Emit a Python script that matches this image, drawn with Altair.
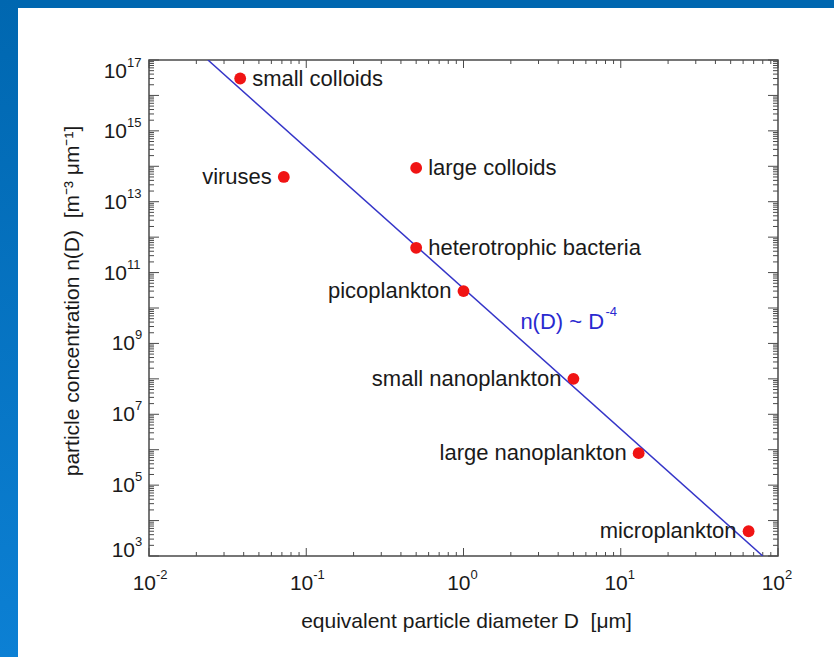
import altair as alt
import pandas as pd

# ---- plotting area geometry (pixels) ----
W, H = 629, 496
PAD = {"left": 149, "top": 60, "right": 56, "bottom": 101}

# ---- particle classes: equivalent diameter (um) and concentration (m^-3 um^-1) ----
names = [
    "small colloids", "viruses", "large colloids", "heterotrophic bacteria",
    "picoplankton", "small nanoplankton", "large nanoplankton", "microplankton",
]
diameter = [0.038, 0.072, 0.5, 0.5, 1.0, 5.0, 13.0, 65.0]
concentration = [3e16, 5e13, 9e13, 5e11, 3e10, 1e8, 8e5, 5e3]
left_labeled = ["viruses", "picoplankton", "small nanoplankton",
                "large nanoplankton", "microplankton"]

# power law n(D) ~ D^-4, end points across the plotted range
law_D = [0.0237, 80.0]
law_n = [1e17, 1e3]

# axis decades and their exponent labels
x_decades = [0.01, 0.1, 1, 10, 100]
x_exps = ["-2", "-1", "0", "1", "2"]
y_label_vals = [1e3, 1e5, 1e7, 1e9, 1e11, 1e13, 1e15, 1e17]
y_exps = ["3", "5", "7", "9", "11", "13", "15", "17"]

x_major = x_decades
x_minor = [k * 10.0 ** e for e in range(-2, 2) for k in range(2, 10)]
y_major = [10.0 ** e for e in range(3, 18)]
y_minor = [k * 10.0 ** e for e in range(3, 17) for k in range(2, 10)]

NB = "\u00a0"
x_title = "equivalent particle diameter D" + NB + NB + "[\u03bcm]"
y_title = ("particle concentration n(D)" + NB + NB
           + "[m\u207b\u00b3" + NB + "\u03bcm\u207b\u00b9]")

FONT = "Liberation Sans"
INK = "#1a1a1a"
AX = "#4a4a4a"
FS = 22

xs = alt.Scale(type="log", domain=[0.01, 100], nice=False)
ys = alt.Scale(type="log", domain=[1e3, 1e17], nice=False)

pts = pd.DataFrame({"name": names, "D": diameter, "n": concentration})
pts["left"] = pts["name"].isin(left_labeled)

blank = alt.Data(values=[{}])

# ---- page frame ----
top_strip = alt.Chart(blank).mark_rect(color="#0067b0").encode(
    x=alt.value(-PAD["left"]), x2=alt.value(W + PAD["right"]),
    y=alt.value(-PAD["top"]), y2=alt.value(-PAD["top"] + 8),
)
left_strip = alt.Chart(blank).mark_rect(
    color=alt.Gradient(
        gradient="linear", x1=0, y1=0, x2=0, y2=1,
        stops=[alt.GradientStop(color="#0067b0", offset=0),
               alt.GradientStop(color="#0c80d4", offset=1)],
    )
).encode(
    x=alt.value(-PAD["left"]), x2=alt.value(-PAD["left"] + 18),
    y=alt.value(-PAD["top"]), y2=alt.value(H + PAD["bottom"]),
)

# ---- inward ticks on all four sides ----
def xticks(vals, length):
    df = pd.DataFrame({"tx": vals})
    enc = dict(x=alt.X("tx:Q", scale=xs, axis=None))
    bottom = alt.Chart(df).mark_rule(color=AX, strokeWidth=1).encode(
        **enc, y=alt.value(H), y2=alt.value(H - length))
    top = alt.Chart(df).mark_rule(color=AX, strokeWidth=1).encode(
        **enc, y=alt.value(0), y2=alt.value(length))
    return [bottom, top]


def yticks(vals, length):
    df = pd.DataFrame({"ty": vals})
    enc = dict(y=alt.Y("ty:Q", scale=ys, axis=None))
    left = alt.Chart(df).mark_rule(color=AX, strokeWidth=1).encode(
        **enc, x=alt.value(0), x2=alt.value(length))
    right = alt.Chart(df).mark_rule(color=AX, strokeWidth=1).encode(
        **enc, x=alt.value(W), x2=alt.value(W - length))
    return [left, right]


ticks = xticks(x_major, 8) + xticks(x_minor, 4) + yticks(y_major, 10) + yticks(y_minor, 5)

# ---- tick labels: "10" with a raised exponent ----
xl = pd.DataFrame({"xv": x_decades, "e": x_exps})
x_base = alt.Chart(xl).mark_text(
    align="right", baseline="middle", dx=7, font=FONT, fontSize=21, color=INK
).encode(x=alt.X("xv:Q", scale=xs, axis=None), y=alt.value(H + 28), text=alt.value("10"))
x_sup = alt.Chart(xl).mark_text(
    align="left", baseline="middle", dx=7, font=FONT, fontSize=13, color=INK
).encode(x=alt.X("xv:Q", scale=xs, axis=None), y=alt.value(H + 19), text="e:N")

yl = pd.DataFrame({"yv": y_label_vals, "e": y_exps})


def ylabel(cond, xoff, dy):
    base = alt.Chart(yl).transform_filter(cond).mark_text(
        align="right", baseline="middle", dy=dy, font=FONT, fontSize=21, color=INK
    ).encode(y=alt.Y("yv:Q", scale=ys, axis=None), x=alt.value(xoff), text=alt.value("10"))
    sup = alt.Chart(yl).transform_filter(cond).mark_text(
        align="left", baseline="middle", dy=dy - 9, font=FONT, fontSize=13, color=INK
    ).encode(y=alt.Y("yv:Q", scale=ys, axis=None), x=alt.value(xoff), text="e:N")
    return [base, sup]


ylabels = (
    ylabel("datum.yv >= 1e10 && datum.yv < 1e16", -22, 1)
    + ylabel("datum.yv > 1e16", -22, 12)
    + ylabel("datum.yv < 1e10 && datum.yv > 1e4", -14, 1)
    + ylabel("datum.yv < 1e4", -14, -5)
)

# ---- axis titles ----
xtitle = alt.Chart(blank).mark_text(
    align="center", baseline="middle", font=FONT, fontSize=21, color=INK
).encode(x=alt.value(W / 2 + 3), y=alt.value(H + 66), text=alt.value(x_title))
ytitle = alt.Chart(blank).mark_text(
    align="center", baseline="middle", angle=270, font=FONT, fontSize=21, color=INK
).encode(x=alt.value(-76), y=alt.value(H / 2 - 7), text=alt.value(y_title))

# ---- power-law line, data points and their names ----
law = alt.Chart(pd.DataFrame({"D": law_D, "n": law_n})).mark_line(
    color="#3535c8", strokeWidth=1.5, clip=True
).encode(
    x=alt.X("D:Q", scale=xs, axis=None),
    y=alt.Y("n:Q", scale=ys, axis=None),
)

dots = alt.Chart(pts).mark_circle(color="#f01414", size=140, opacity=1).encode(
    x=alt.X("D:Q", scale=xs, axis=None),
    y=alt.Y("n:Q", scale=ys, axis=None),
)

names_right = alt.Chart(pts).transform_filter("!datum.left").mark_text(
    align="left", baseline="middle", dx=12, font=FONT, fontSize=FS, color=INK
).encode(x=alt.X("D:Q", scale=xs, axis=None), y=alt.Y("n:Q", scale=ys, axis=None), text="name:N")

names_left = alt.Chart(pts).transform_filter("datum.left").mark_text(
    align="right", baseline="middle", dx=-12, font=FONT, fontSize=FS, color=INK
).encode(x=alt.X("D:Q", scale=xs, axis=None), y=alt.Y("n:Q", scale=ys, axis=None), text="name:N")

# ---- law annotation ----
note = pd.DataFrame({"D": [2.3], "n": [4e9]})
note_main = alt.Chart(note).mark_text(
    align="left", baseline="middle", font=FONT, fontSize=FS, color="#2a2ad0"
).encode(x=alt.X("D:Q", scale=xs, axis=None), y=alt.Y("n:Q", scale=ys, axis=None),
         text=alt.value("n(D) ~ D"))
note_sup = alt.Chart(note).mark_text(
    align="left", baseline="middle", dx=85, dy=-10, font=FONT, fontSize=13, color="#2a2ad0"
).encode(x=alt.X("D:Q", scale=xs, axis=None), y=alt.Y("n:Q", scale=ys, axis=None),
         text=alt.value("-4"))

chart = alt.layer(
    top_strip, left_strip, *ticks, law, dots, names_right, names_left,
    note_main, note_sup, x_base, x_sup, *ylabels, xtitle, ytitle,
).properties(
    width=W, height=H,
    autosize=alt.AutoSizeParams(type="none"),
    padding=PAD,
    background="white",
).configure_view(stroke=AX, strokeWidth=1.5)

chart.save("out.html", embed_options={"renderer": "svg", "actions": False})
